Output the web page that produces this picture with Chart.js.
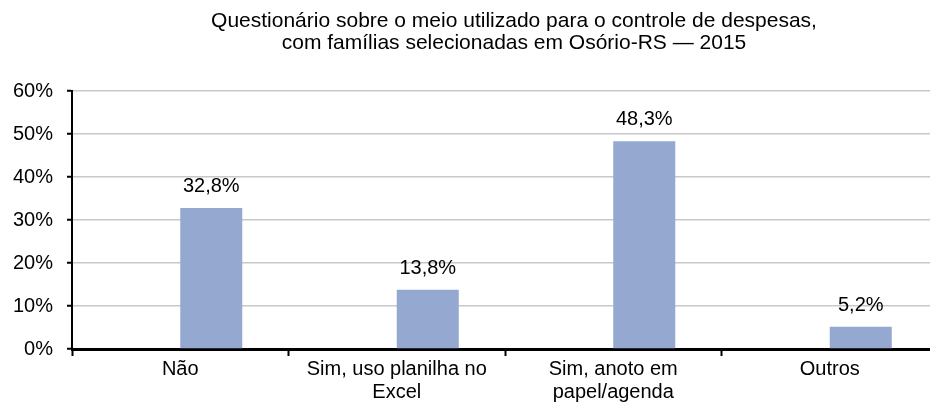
<!DOCTYPE html>
<html>
<head>
<meta charset="utf-8">
<script src="https://cdn.jsdelivr.net/npm/chart.js@4.4.1/dist/chart.umd.min.js"></script>
<style>
html,body{margin:0;padding:0;overflow:hidden;background:#fff;width:930px;height:407px;}
canvas{display:block;}
</style>
</head>
<body>
<canvas id="c" width="970" height="407"></canvas>
<script>
const categories = [["Não"], ["Sim, uso planilha no", "Excel"], ["Sim, anoto em", "papel/agenda"], ["Outros"]];
const values = [32.8, 13.8, 48.3, 5.2];
const emptySeries = [null, null, null, null];
const yTicks = [0, 10, 20, 30, 40, 50, 60];
const titleLines = ["Questionário sobre o meio utilizado para o controle de despesas,", "com famílias selecionadas em Osório-RS — 2015"];

const FONT = "'Liberation Sans', Arial, sans-serif";

const labelPlugin = {
  id: 'valueLabels',
  afterDatasetsDraw(chart) {
    const ctx = chart.ctx;
    const meta = chart.getDatasetMeta(1);
    ctx.save();
    ctx.font = "20px " + FONT;
    ctx.fillStyle = "#000";
    ctx.textAlign = "center";
    ctx.textBaseline = "alphabetic";
    meta.data.forEach((bar, i) => {
      const v = values[i];
      ctx.fillText(v.toFixed(1).replace('.', ',') + '%', bar.x, bar.y - 16);
    });
    ctx.restore();
  }
};

const titlePlugin = {
  id: 'customTitle',
  afterDraw(chart) {
    const ctx = chart.ctx;
    ctx.save();
    ctx.font = "21px " + FONT;
    ctx.fillStyle = "#000";
    ctx.textAlign = "center";
    ctx.textBaseline = "alphabetic";
    titleLines.forEach((line, i) => {
      ctx.fillText(line, 514, 26.5 + i * 22.5);
    });
    ctx.restore();
  }
};

new Chart(document.getElementById('c'), {
  type: 'bar',
  data: {
    labels: categories,
    datasets: [
      { data: emptySeries, backgroundColor: 'rgba(0,0,0,0)' },
      { data: values, backgroundColor: '#95a9d0' }
    ]
  },
  options: {
    responsive: false,
    animation: false,
    devicePixelRatio: 1,
    layout: { padding: { left: 0, right: 32, top: 91, bottom: 0 } },
    datasets: { bar: { categoryPercentage: 0.573, barPercentage: 1.0 } },
    plugins: {
      legend: { display: false },
      tooltip: { enabled: false },
      title: { display: false }
    },
    scales: {
      x: {
        grid: { display: true, drawOnChartArea: false, drawTicks: true, tickLength: 7, tickWidth: 2, tickColor: '#000', offset: true },
        border: { display: true, color: '#000', width: 3 },
        ticks: { color: '#000', font: { family: FONT, size: 20, lineHeight: 1.15 }, padding: 2, maxRotation: 0, autoSkip: false },
        afterFit(s) { s.height = 58; }
      },
      y: {
        min: 0, max: 60,
        afterBuildTicks(s) { s.ticks = yTicks.map(v => ({ value: v })); },
        grid: { color: '#c8c8c8', lineWidth: 1.5, drawTicks: true, tickLength: 5, tickColor: '#000', tickWidth: 2 },
        border: { display: true, color: '#000', width: 2 },
        ticks: { color: '#000', font: { family: FONT, size: 20 }, padding: 14, callback: v => v + '%' },
        afterFit(s) { s.width = 72; }
      }
    }
  },
  plugins: [labelPlugin, titlePlugin]
});
</script>
</body>
</html>
